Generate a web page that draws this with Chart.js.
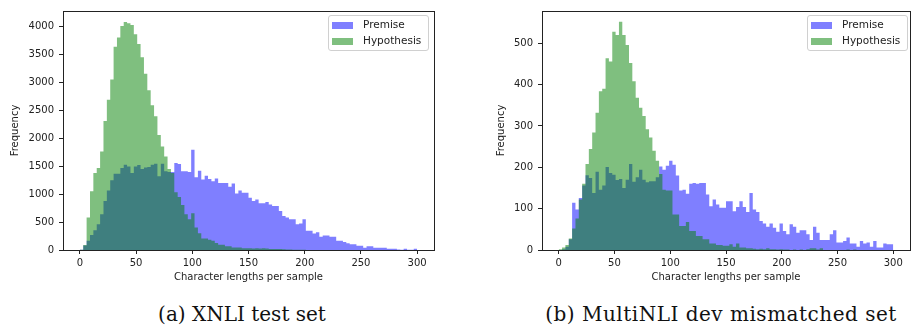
<!DOCTYPE html>
<html>
<head>
<meta charset="utf-8">
<script src="https://cdn.jsdelivr.net/npm/chart.js@4.4.1/dist/chart.umd.min.js"></script>
<style>
  html, body { margin: 0; padding: 0; background: #fff; }
  body { width: 911px; height: 325px; position: relative; overflow: hidden; font-family: "DejaVu Sans", sans-serif; }
  .wrap { position: absolute; top: 0; height: 290px; }
  #wrapA { left: 0; width: 445px; }
  #wrapB { left: 460px; width: 451px; }
  .legend { position: absolute; top: 15px; width: 101px; height: 36px; box-sizing: border-box;
            border: 1px solid #d0d0d0; border-radius: 3px; background: rgba(255,255,255,0.8);
            font-size: 10.5px; color: #222; }
  .legend .row { position: absolute; left: 3px; height: 12px; line-height: 12px; white-space: nowrap; }
  .legend .sw { display: inline-block; width: 21px; height: 7px; vertical-align: -1px; margin-right: 10px; }
  .caption { position: absolute; top: 304px; width: 400px; text-align: center; line-height: 20px;
             font-family: "DejaVu Serif", serif; font-size: 20px; color: #111; white-space: nowrap; }
</style>
</head>
<body>
<div class="wrap" id="wrapA"><canvas id="chartA"></canvas></div>
<div class="wrap" id="wrapB"><canvas id="chartB"></canvas></div>

<div class="legend" style="left:328px">
  <div class="row" style="top:2px"><span class="sw" style="background:rgba(0,0,255,0.5)"></span>Premise</div>
  <div class="row" style="top:18px"><span class="sw" style="background:rgba(0,128,0,0.5)"></span>Hypothesis</div>
</div>
<div class="legend" style="left:807px">
  <div class="row" style="top:2px"><span class="sw" style="background:rgba(0,0,255,0.5)"></span>Premise</div>
  <div class="row" style="top:18px"><span class="sw" style="background:rgba(0,128,0,0.5)"></span>Hypothesis</div>
</div>

<div class="caption" style="left:42px">(a) XNLI test set</div>
<div class="caption" style="left:521px; letter-spacing:0.5px">(b) MultiNLI dev mismatched set</div>

<script>
// histogram bins: 100 bins of width 3 over 0..300
const BIN_WIDTH = 3;
const N_BINS = 100;

const xTicks = [0, 50, 100, 150, 200, 250, 300];
const yTicksXnli = [0, 500, 1000, 1500, 2000, 2500, 3000, 3500, 4000];
const yTicksMnli = [0, 100, 200, 300, 400, 500];

// (a) XNLI test set
const xnliPremise = [
  5, 80, 166, 267, 356, 462, 640, 877, 1067, 1250,
  1369, 1369, 1470, 1529, 1499, 1381, 1499, 1523, 1452, 1481,
  1487, 1529, 1547, 1321, 1547, 1410, 1399, 1400, 1558, 1540,
  1410, 1410, 1399, 1796, 1304, 1422, 1262, 1333, 1274, 1233,
  1280, 1203, 1203, 1203, 1132, 1191, 1013, 1067, 1025, 1025,
  936, 877, 907, 836, 836, 859, 818, 788, 788, 699,
  610, 581, 551, 551, 462, 474, 551, 344, 344, 296,
  320, 237, 261, 261, 237, 237, 166, 166, 142, 119,
  101, 101, 77, 77, 41, 65, 65, 41, 41, 41,
  41, 24, 24, 24, 8, 5, 24, 5, 3, 24
];
const xnliHypothesis = [
  5, 90, 581, 1055, 1381, 1470, 1766, 2311, 2696, 3058,
  3644, 3810, 4018, 4089, 4065, 4036, 3870, 3692, 3455, 3159,
  2862, 2596, 2400, 2062, 1855, 1677, 1450, 1380, 1037, 948,
  806, 640, 551, 658, 403, 302, 207, 207, 184, 166,
  124, 95, 95, 65, 65, 47, 47, 47, 30, 30,
  30, 28, 30, 25, 30, 28, 18, 18, 20, 18,
  12, 10, 8, 6, 5, 4, 3, 2, 2, 1,
  1, 1, 0, 1, 0, 0, 0, 0, 0, 0,
  0, 0, 0, 0, 0, 0, 0, 0, 0, 0,
  0, 0, 0, 0, 0, 0, 0, 0, 0, 0
];

// (b) MultiNLI dev mismatched set
const mnliPremise = [
  0, 2, 8, 26, 114, 98, 126, 156, 181, 174,
  138, 189, 146, 156, 201, 186, 182, 169, 172, 150,
  170, 208, 165, 176, 194, 170, 164, 166, 166, 176,
  202, 194, 204, 216, 206, 180, 144, 146, 136, 160,
  162, 160, 162, 162, 134, 106, 122, 110, 102, 102,
  118, 118, 94, 104, 118, 104, 92, 138, 98, 92,
  70, 64, 56, 64, 54, 44, 64, 46, 38, 62,
  56, 42, 48, 48, 38, 24, 56, 42, 24, 24,
  24, 38, 48, 18, 18, 22, 30, 16, 16, 8,
  22, 16, 18, 8, 22, 6, 6, 16, 14, 14
];
const mnliHypothesis = [
  2, 6, 12, 28, 52, 76, 122, 160, 208, 244,
  284, 332, 384, 390, 464, 456, 528, 520, 552, 520,
  496, 452, 408, 368, 344, 324, 292, 272, 240, 216,
  184, 146, 144, 144, 86, 86, 58, 58, 68, 46,
  46, 34, 34, 26, 26, 16, 16, 12, 12, 10,
  10, 14, 8, 16, 6, 6, 4, 4, 3, 2,
  3, 2, 4, 2, 2, 1, 2, 1, 1, 0,
  1, 0, 1, 0, 2, 4, 4, 1, 4, 0,
  0, 0, 0, 0, 0, 0, 1, 0, 1, 0,
  0, 0, 0, 0, 0, 0, 0, 0, 0, 0
];

Chart.defaults.font.family = '"DejaVu Sans", sans-serif';
Chart.defaults.font.size = 10;
Chart.defaults.color = '#222';

// matplotlib-like box round the plot area
const framePlugin = {
  id: 'frame',
  afterDraw(chart) {
    const { ctx, chartArea: a } = chart;
    ctx.save();
    ctx.strokeStyle = '#222';
    ctx.lineWidth = 1;
    ctx.strokeRect(a.left + 0.5, a.top + 0.5, a.right - a.left, a.bottom - a.top);
    ctx.restore();
  }
};

// each count sits on its bin's left edge; the step line holds it until the next edge,
// and the closing point on the last right edge finishes the final bin
function toSteps(values) {
  const pts = values.map((v, i) => ({ x: i * BIN_WIDTH, y: v }));
  pts.push({ x: N_BINS * BIN_WIDTH, y: values[values.length - 1] });
  return pts;
}

function histSeries(label, values, color, order) {
  return {
    label,
    data: toSteps(values),
    stepped: 'before',
    fill: 'origin',
    backgroundColor: color,
    borderColor: 'rgba(0,0,0,0)',
    borderWidth: 0,
    pointRadius: 0,
    pointHoverRadius: 0,
    tension: 0,
    order
  };
}

function makeHist(canvasId, premise, hypothesis, cfg) {
  const ctx = document.getElementById(canvasId).getContext('2d');
  return new Chart(ctx, {
    type: 'line',
    data: {
      datasets: [
        histSeries('Premise', premise, 'rgba(0,0,255,0.5)', 2),
        histSeries('Hypothesis', hypothesis, 'rgba(0,128,0,0.5)', 1)
      ]
    },
    options: {
      responsive: true,
      maintainAspectRatio: false,
      animation: false,
      layout: { padding: cfg.padding },
      scales: {
        x: {
          type: 'linear',
          min: -15,
          max: 315,
          afterBuildTicks: s => { s.ticks = xTicks.map(v => ({ value: v })); },
          afterFit: s => { s.height = 40; },
          grid: { drawOnChartArea: false, drawTicks: true, tickLength: 4, color: '#222' },
          border: { display: false },
          ticks: { padding: 3, maxRotation: 0, color: '#222', callback: v => String(v) },
          title: { display: true, text: 'Character lengths per sample', color: '#222', padding: { top: 0, bottom: 6.5 } }
        },
        y: {
          type: 'linear',
          min: 0,
          max: cfg.yMax,
          afterBuildTicks: s => { s.ticks = cfg.yTicks.map(v => ({ value: v })); },
          afterFit: s => { s.width = cfg.yWidth; },
          grid: { drawOnChartArea: false, drawTicks: true, tickLength: 4, color: '#222' },
          border: { display: false },
          ticks: { padding: 5, color: '#222', callback: v => String(v) },
          title: { display: true, text: 'Frequency', color: '#222', padding: { top: cfg.yTitlePad, bottom: 0 } }
        }
      },
      plugins: {
        legend: { display: false },
        tooltip: { enabled: false }
      }
    },
    plugins: [framePlugin]
  });
}

makeHist('chartA', xnliPremise, xnliHypothesis, {
  yMax: 4285, yTicks: yTicksXnli, yWidth: 63, yTitlePad: 9.5,
  padding: { top: 9, right: 11, left: 0, bottom: 0 }
});
makeHist('chartB', mnliPremise, mnliHypothesis, {
  yMax: 578, yTicks: yTicksMnli, yWidth: 82, yTitlePad: 35,
  padding: { top: 9, right: 1, left: 0, bottom: 0 }
});
</script>
</body>
</html>
